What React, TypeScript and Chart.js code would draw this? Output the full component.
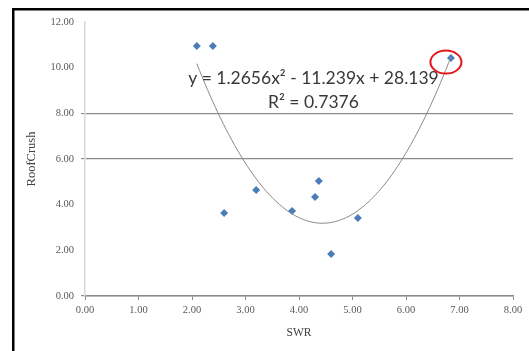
import React, { useEffect, useRef } from "react";
import { Chart, registerables } from "chart.js";

Chart.register(...registerables);

const swr = [2.09, 2.39, 2.6, 3.2, 3.87, 4.3, 4.37, 4.6, 5.1, 6.84];
const roofCrush = [10.95, 10.95, 3.63, 4.64, 3.72, 4.34, 5.04, 1.84, 3.42, 10.42];
const trendCoefficients = [1.2656, -11.239, 28.139]; // a, b, c of the displayed fit
const trendRange = [2.09, 6.84];
const xTicks = [0, 1, 2, 3, 4, 5, 6, 7, 8];
const yTicks = [0, 2, 4, 6, 8, 10, 12];
const equationLines = ["y = 1.2656x² - 11.239x + 28.139", "R² = 0.7376"];
const highlightIndex = 9;

const trendPoints: { x: number; y: number }[] = [];
for (let i = 0; i <= 95; i++) {
  const x = trendRange[0] + ((trendRange[1] - trendRange[0]) * i) / 95;
  const [a, b, c] = trendCoefficients;
  trendPoints.push({ x, y: a * x * x + b * x + c });
}

const decorPlugin = {
  id: "decor",
  beforeDraw(chart: any) {
    const ctx = chart.ctx;
    ctx.save();
    ctx.fillStyle = "#fff";
    ctx.fillRect(0, 0, chart.width, chart.height);
    ctx.fillStyle = "#000";
    ctx.fillRect(12, 8, 2.5, chart.height - 8);
    ctx.fillRect(12, 8, chart.width - 12, 2.5);
    ctx.restore();
  },
  afterDatasetsDraw(chart: any) {
    const ctx = chart.ctx;
    const xs = chart.scales.x;
    const ys = chart.scales.y;
    ctx.save();
    ctx.fillStyle = "#383838";
    ctx.font = "17.5px Lato";
    ctx.textAlign = "center";
    ctx.textBaseline = "middle";
    const cx = xs.getPixelForValue(4.27);
    ctx.fillText(equationLines[0], cx, ys.getPixelForValue(9.55));
    ctx.fillText(equationLines[1], cx, ys.getPixelForValue(8.48));
    const px = xs.getPixelForValue(swr[highlightIndex]);
    const py = ys.getPixelForValue(roofCrush[highlightIndex]);
    ctx.strokeStyle = "#e8141b";
    ctx.lineWidth = 2;
    ctx.beginPath();
    ctx.ellipse(px - 5, py + 4, 15.5, 11.5, 0, 0, Math.PI * 2);
    ctx.stroke();
    ctx.restore();
  },
};

export default function App() {
  const ref = useRef<HTMLCanvasElement | null>(null);
  useEffect(() => {
    document.body.style.margin = "0";
    const chart = new Chart(ref.current!, {
      type: "scatter",
      data: {
        datasets: [
          {
            label: "Trend",
            type: "line",
            data: trendPoints,
            borderColor: "#8a8a8a",
            borderWidth: 1,
            pointRadius: 0,
            fill: false,
            tension: 0,
          } as any,
          {
            label: "RoofCrush",
            data: swr.map((x, i) => ({ x, y: roofCrush[i] })),
            pointStyle: "rectRot",
            pointRadius: 4,
            backgroundColor: "#4a7ebb",
            borderColor: "#4a7ebb",
            borderWidth: 0,
          },
        ],
      },
      options: {
        animation: false,
        responsive: false,
        layout: { padding: { left: 0, top: 22, right: 16, bottom: 0 } },
        plugins: { legend: { display: false }, tooltip: { enabled: false } },
        scales: {
          x: {
            type: "linear",
            min: 0,
            max: 8,
            afterBuildTicks: (s: any) => {
              s.ticks = xTicks.map((v) => ({ value: v }));
            },
            afterFit: (s: any) => {
              s.height = 55;
            },
            ticks: {
              callback: (v: any) => Number(v).toFixed(2),
              font: { family: "Liberation Serif", size: 10.5 },
              color: "#595959",
              padding: 4,
            },
            grid: { drawOnChartArea: false, tickLength: 4, color: "#8c8c8c" },
            border: { color: "#8c8c8c", width: 1.5 },
            title: {
              display: true,
              text: "SWR",
              font: { family: "Liberation Serif", size: 11.5 },
              color: "#404040",
              padding: { top: 0, bottom: 11 },
            },
          },
          y: {
            type: "linear",
            min: 0,
            max: 12,
            afterBuildTicks: (s: any) => {
              s.ticks = yTicks.map((v) => ({ value: v }));
            },
            afterFit: (s: any) => {
              s.width = 85;
            },
            ticks: {
              callback: (v: any) => Number(v).toFixed(2),
              font: { family: "Liberation Serif", size: 10.5 },
              color: "#595959",
              padding: 7,
            },
            grid: {
              tickLength: 4,
              lineWidth: 1.2,
              color: (c: any) =>
                c.tick && (c.tick.value === 6 || c.tick.value === 8 || c.tick.value === 0)
                  ? "#8c8c8c"
                  : "rgba(0,0,0,0)",
            },
            border: { color: "#d9d9d9", width: 1.5 },
            title: {
              display: true,
              text: "RoofCrush",
              font: { family: "Liberation Serif", size: 12.5 },
              color: "#404040",
              padding: { top: 24, bottom: 0 },
            },
          },
        },
      },
      plugins: [decorPlugin],
    });
    return () => chart.destroy();
  }, []);
  return <canvas ref={ref} width={529} height={351} style={{ display: "block" }} />;
}
